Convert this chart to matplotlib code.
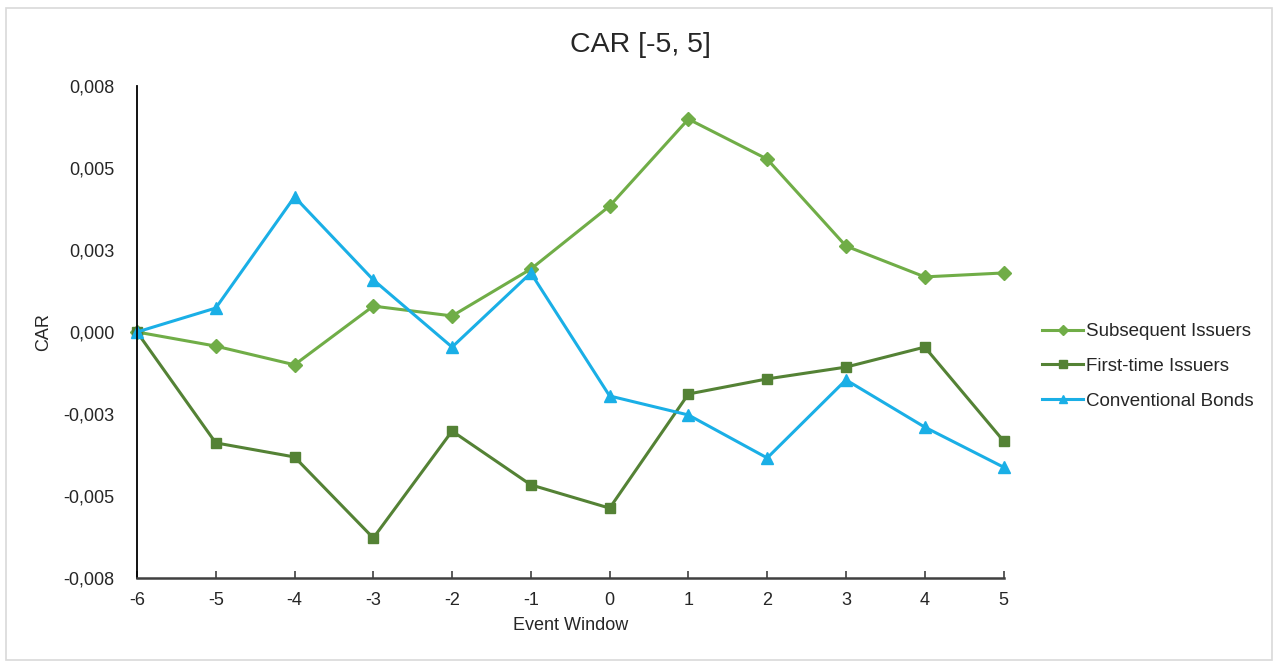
import numpy as np
import matplotlib.pyplot as plt
from matplotlib.patches import Rectangle

plt.rcParams["font.family"] = ["Liberation Sans", "DejaVu Sans"]
plt.rcParams["axes.unicode_minus"] = False

# ── data ──────────────────────────────────────────────────────────────────────
event_window = [-6, -5, -4, -3, -2, -1, 0, 1, 2, 3, 4, 5]

subsequent = [0.0, -0.00043, -0.00100, 0.00079, 0.00049, 0.00192,
              0.00384, 0.00649, 0.00527, 0.00262, 0.00168, 0.00180]
first_time = [0.0, -0.00338, -0.00381, -0.00628, -0.00302, -0.00466,
              -0.00537, -0.00189, -0.00143, -0.00107, -0.00046, -0.00332]
conventional = [0.0, 0.00073, 0.00412, 0.00159, -0.00046, 0.00180,
                -0.00195, -0.00253, -0.00384, -0.00146, -0.00290, -0.00412]

y_ticks = [-0.0075, -0.005, -0.0025, 0.0, 0.0025, 0.005, 0.0075]
y_labels = ["-0,008", "-0,005", "-0,003", "0,000", "0,003", "0,005", "0,008"]

C_SUB = "#70AD47"
C_FT = "#548235"
C_CB = "#1AAFE6"

# ── plot ──────────────────────────────────────────────────────────────────────
fig = plt.figure(figsize=(12.8, 6.64), dpi=100)
ax = fig.add_axes([0.107, 0.1295, 0.677, 0.741])

ax.plot(event_window, subsequent, marker="D", ms=7, lw=2.2, color=C_SUB,
        label="Subsequent Issuers", clip_on=False)
ax.plot(event_window, first_time, marker="s", ms=7.5, lw=2.2, color=C_FT,
        label="First-time Issuers", clip_on=False)
ax.plot(event_window, conventional, marker="^", ms=8, lw=2.2, color=C_CB,
        label="Conventional Bonds", clip_on=False)

ax.set_xlim(-6, 5)
ax.set_ylim(-0.0075, 0.0075)
ax.set_xticks(event_window)
ax.set_yticks(y_ticks)
ax.set_yticklabels(y_labels)

for s in ["top", "right"]:
    ax.spines[s].set_visible(False)
ax.spines["left"].set_color("black")
ax.spines["left"].set_linewidth(1.3)
ax.spines["bottom"].set_color("#404040")
ax.spines["bottom"].set_linewidth(1.8)

ax.tick_params(axis="x", direction="in", length=5, width=1.2, pad=10,
               labelsize=13, colors="#404040", labelcolor="#262626")
ax.tick_params(axis="y", length=0, pad=16, labelsize=13, labelcolor="#262626")

ax.set_xlabel("Event Window", fontsize=13, color="#262626", labelpad=6)
ax.set_ylabel("CAR", fontsize=13, color="#262626", labelpad=8)
fig.text(0.5, 0.932, "CAR [-5, 5]", ha="center", va="center",
         fontsize=20.5, color="#262626")

ax.legend(loc="center left", bbox_to_anchor=(1.025, 0.43), frameon=False,
          fontsize=13.5, handlelength=2.2, handletextpad=0.15, labelspacing=0.95,
          markerscale=0.7, labelcolor="#262626")

fig.patches.append(Rectangle((0.005, 0.006), 0.989, 0.982, transform=fig.transFigure,
                             fill=False, edgecolor="#d9d9d9", lw=1.2))

plt.savefig("out.png", dpi=100)
